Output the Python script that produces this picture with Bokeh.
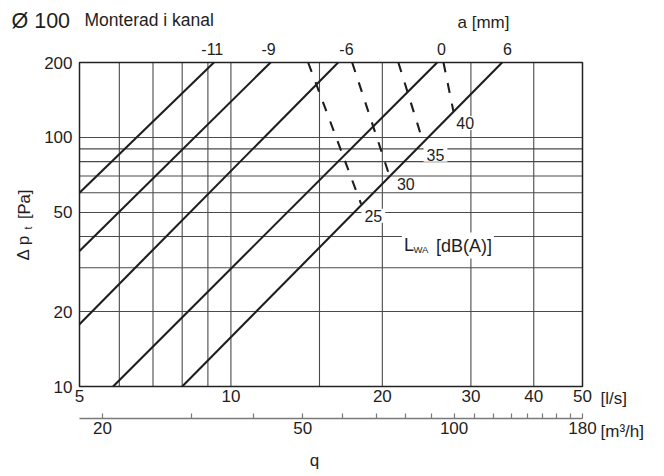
from math import pi, log10
from bokeh.plotting import figure
from bokeh.models import (LogAxis, FixedTicker, Range1d, LogScale, Label,
                          NumeralTickFormatter)
from bokeh.embed import file_html
from bokeh.resources import INLINE

# ---------------- data ----------------
q_min, q_max = 5, 50                              # flow range [l/s]
dp_min, dp_max = 10, 200                          # pressure range [Pa]
ls_to_m3h = 3.6                                   # 1 l/s = 3.6 m3/h

q_ticks = [5, 10, 20, 30, 40, 50]                 # l/s tick labels
q_grid = [6, 7, 8, 9, 10, 15, 20, 30, 40]         # vertical grid lines
dp_ticks = [10, 20, 50, 100, 200]                 # Pa tick labels
dp_grid = [20, 30, 40, 50, 60, 70, 80, 90, 100]   # horizontal grid lines
m3h_major = [20, 50, 100, 180]
m3h_minor = [30, 40, 60, 70, 80, 90, 110, 120, 130, 140, 150, 160, 170]

a_labels = ["-11", "-9", "-6", "0", "6"]          # damper setting a [mm]
a_q_start = [5.0, 5.0, 5.0, 5.83, 8.0]
a_dp_start = [60, 35, 17.8, 10, 10]
a_q_end = [9.25, 11.99, 16.34, 25.71, 34.61]
a_dp_end = [200, 200, 200, 200, 200]

lwa_labels = ["25", "30", "35", "40"]             # sound power L_WA [dB(A)]
lwa_q_start = [14.24, 17.42, 21.52, 26.46]
lwa_dp_start = [200, 200, 200, 200]
lwa_q_end = [18.15, 20.67, 24.1, 27.7]
lwa_dp_end = [54, 70, 96, 127]

# ---------------- layout (page pixels) ----------------
FONT = "Liberation Sans"
INK = "#1e1e1e"
GRID = "#4a4a4a"
AX2 = "#7a7a7a"

W, H = 660, 474
CL, CR, CT, CB = 79, 582, 62, 386     # chart box edges
AX2_Y = 418                           # m3/h scale line

xdec = (CR - CL) / log10(q_max / q_min)
ydec = (CB - CT) / log10(dp_max / dp_min)
x_lo = q_min * 10 ** (-CL / xdec)
x_hi = q_max * 10 ** ((W - CR) / xdec)
y_lo = dp_min * 10 ** (-(H - CB) / ydec)
y_hi = dp_max * 10 ** (CT / ydec)
y_ax2 = dp_min * 10 ** (-(AX2_Y - CB) / ydec)

p = figure(width=W, height=H, x_axis_type="log", y_axis_type="log",
           x_axis_location=None, y_axis_location=None,
           x_range=Range1d(x_lo, x_hi), y_range=Range1d(y_lo, y_hi),
           min_border=0, output_backend="svg", toolbar_location=None,
           background_fill_color="white", border_fill_color="white")
p.outline_line_color = None
p.xgrid.visible = False
p.ygrid.visible = False
p.extra_x_ranges = {"m3h": Range1d(x_lo * ls_to_m3h, x_hi * ls_to_m3h)}
p.extra_x_scales = {"m3h": LogScale()}

# grid
p.segment(x0=q_grid, y0=[dp_min] * len(q_grid), x1=q_grid, y1=[dp_max] * len(q_grid),
          line_color=GRID, line_width=1.1)
p.segment(x0=[q_min] * len(dp_grid), y0=dp_grid, x1=[q_max] * len(dp_grid), y1=dp_grid,
          line_color=GRID, line_width=1.1)
# chart box
p.quad(left=[q_min], right=[q_max], bottom=[dp_min], top=[dp_max],
       fill_color=None, line_color="#222222", line_width=1.5)

# damper lines and sound lines
p.segment(x0=a_q_start, y0=a_dp_start, x1=a_q_end, y1=a_dp_end,
          line_color=INK, line_width=2.1)
p.segment(x0=lwa_q_start, y0=lwa_dp_start, x1=lwa_q_end, y1=lwa_dp_end,
          line_color=INK, line_width=2.1, line_dash="10 11")


def style_axis(ax, standoff):
    ax.major_label_standoff = standoff
    ax.major_label_text_font = FONT
    ax.major_label_text_font_size = "17px"
    ax.major_label_text_color = INK


# l/s scale
xax = LogAxis(fixed_location=dp_min, bounds=(q_min, q_max),
              ticker=FixedTicker(ticks=q_ticks, minor_ticks=[]),
              formatter=NumeralTickFormatter(format="0"),
              axis_line_color=None, major_tick_in=0, major_tick_out=0,
              minor_tick_in=0, minor_tick_out=0)
style_axis(xax, 3)
p.add_layout(xax, "below")

# Pa scale
yax = LogAxis(fixed_location=q_min, bounds=(dp_min, dp_max),
              ticker=FixedTicker(ticks=dp_ticks, minor_ticks=[]),
              formatter=NumeralTickFormatter(format="0"),
              axis_line_color=None, major_tick_in=0, major_tick_out=0,
              minor_tick_in=0, minor_tick_out=0)
style_axis(yax, 7)
p.add_layout(yax, "left")

# m3/h scale
ax2 = LogAxis(x_range_name="m3h", fixed_location=y_ax2,
              bounds=(q_min * ls_to_m3h, q_max * ls_to_m3h),
              ticker=FixedTicker(ticks=m3h_major, minor_ticks=m3h_minor),
              formatter=NumeralTickFormatter(format="0"),
              axis_line_color=AX2, axis_line_width=1.6,
              major_tick_in=5, major_tick_out=0, minor_tick_in=5, minor_tick_out=0,
              major_tick_line_color=AX2, minor_tick_line_color=AX2,
              major_tick_line_width=1.2, minor_tick_line_width=1.2)
style_axis(ax2, 3)
p.add_layout(ax2, "below")


def page_label(text, sx, sy, size, align="left", **kw):
    """Label whose vertical middle sits at page pixel (sx, sy); anchored to (q_min, dp_min)."""
    lab = Label(x=q_min, y=dp_min, x_offset=sx - CL, y_offset=CB - sy, text=text,
                text_font=FONT, text_font_size=size, text_color=INK,
                text_align=align, text_baseline="middle", **kw)
    p.add_layout(lab)
    return lab


# titles
page_label("Ø 100", 11, 20.1, "21.5px")
page_label("Monterad i kanal", 84, 19.8, "17.5px")
page_label("a [mm]", 457, 22.3, "17px")

# a labels above the line ends
a_dx = [-1.6, -2, 8.3, 4.3, 5.3]
for t, qe, de, dx in zip(a_labels, a_q_end, a_dp_end, a_dx):
    p.add_layout(Label(x=qe, y=de, x_offset=dx, y_offset=13.2, text=t,
                       text_font=FONT, text_font_size="16px", text_color=INK,
                       text_align="center", text_baseline="middle"))

# L_WA labels at the dashed line ends
l_dx = [12.2, 16.3, 12.4, 11.7]
l_dy = [-11.7, -8.2, -12.8, -11.4]
for t, qe, de, dx, dy in zip(lwa_labels, lwa_q_end, lwa_dp_end, l_dx, l_dy):
    p.add_layout(Label(x=qe, y=de, x_offset=dx, y_offset=dy, text=t,
                       text_font=FONT, text_font_size="16px", text_color=INK,
                       text_align="center", text_baseline="middle",
                       background_fill_color="white",
                       padding=dict(left=3, right=3, top=1, bottom=1)))

# L_WA [dB(A)] legend text (white box spans the whole legend)
page_label("[dB(A)]", 435.4 - 34, 245.1, "18px", background_fill_color="white",
           padding=dict(left=34, right=2, top=3, bottom=3))
page_label("L", 403.6, 244.9, "18px")
page_label("WA", 413, 248.6, "9.5px")

# unit texts
page_label("[l/s]", 600, 397.5, "17px")
page_label("[m³/h]", 600, 430.7, "17px")
page_label("q", 314, 460, "17px", align="center")

# y axis title  Δ p_t [Pa]
page_label("Δ p", 23, 260, "17px", angle=pi / 2)
page_label("t", 27.8, 229, "10.5px", angle=pi / 2)
page_label("[Pa]", 23.1, 218.5, "16.5px", angle=pi / 2)

open("out.html", "w").write(file_html(p, INLINE))
